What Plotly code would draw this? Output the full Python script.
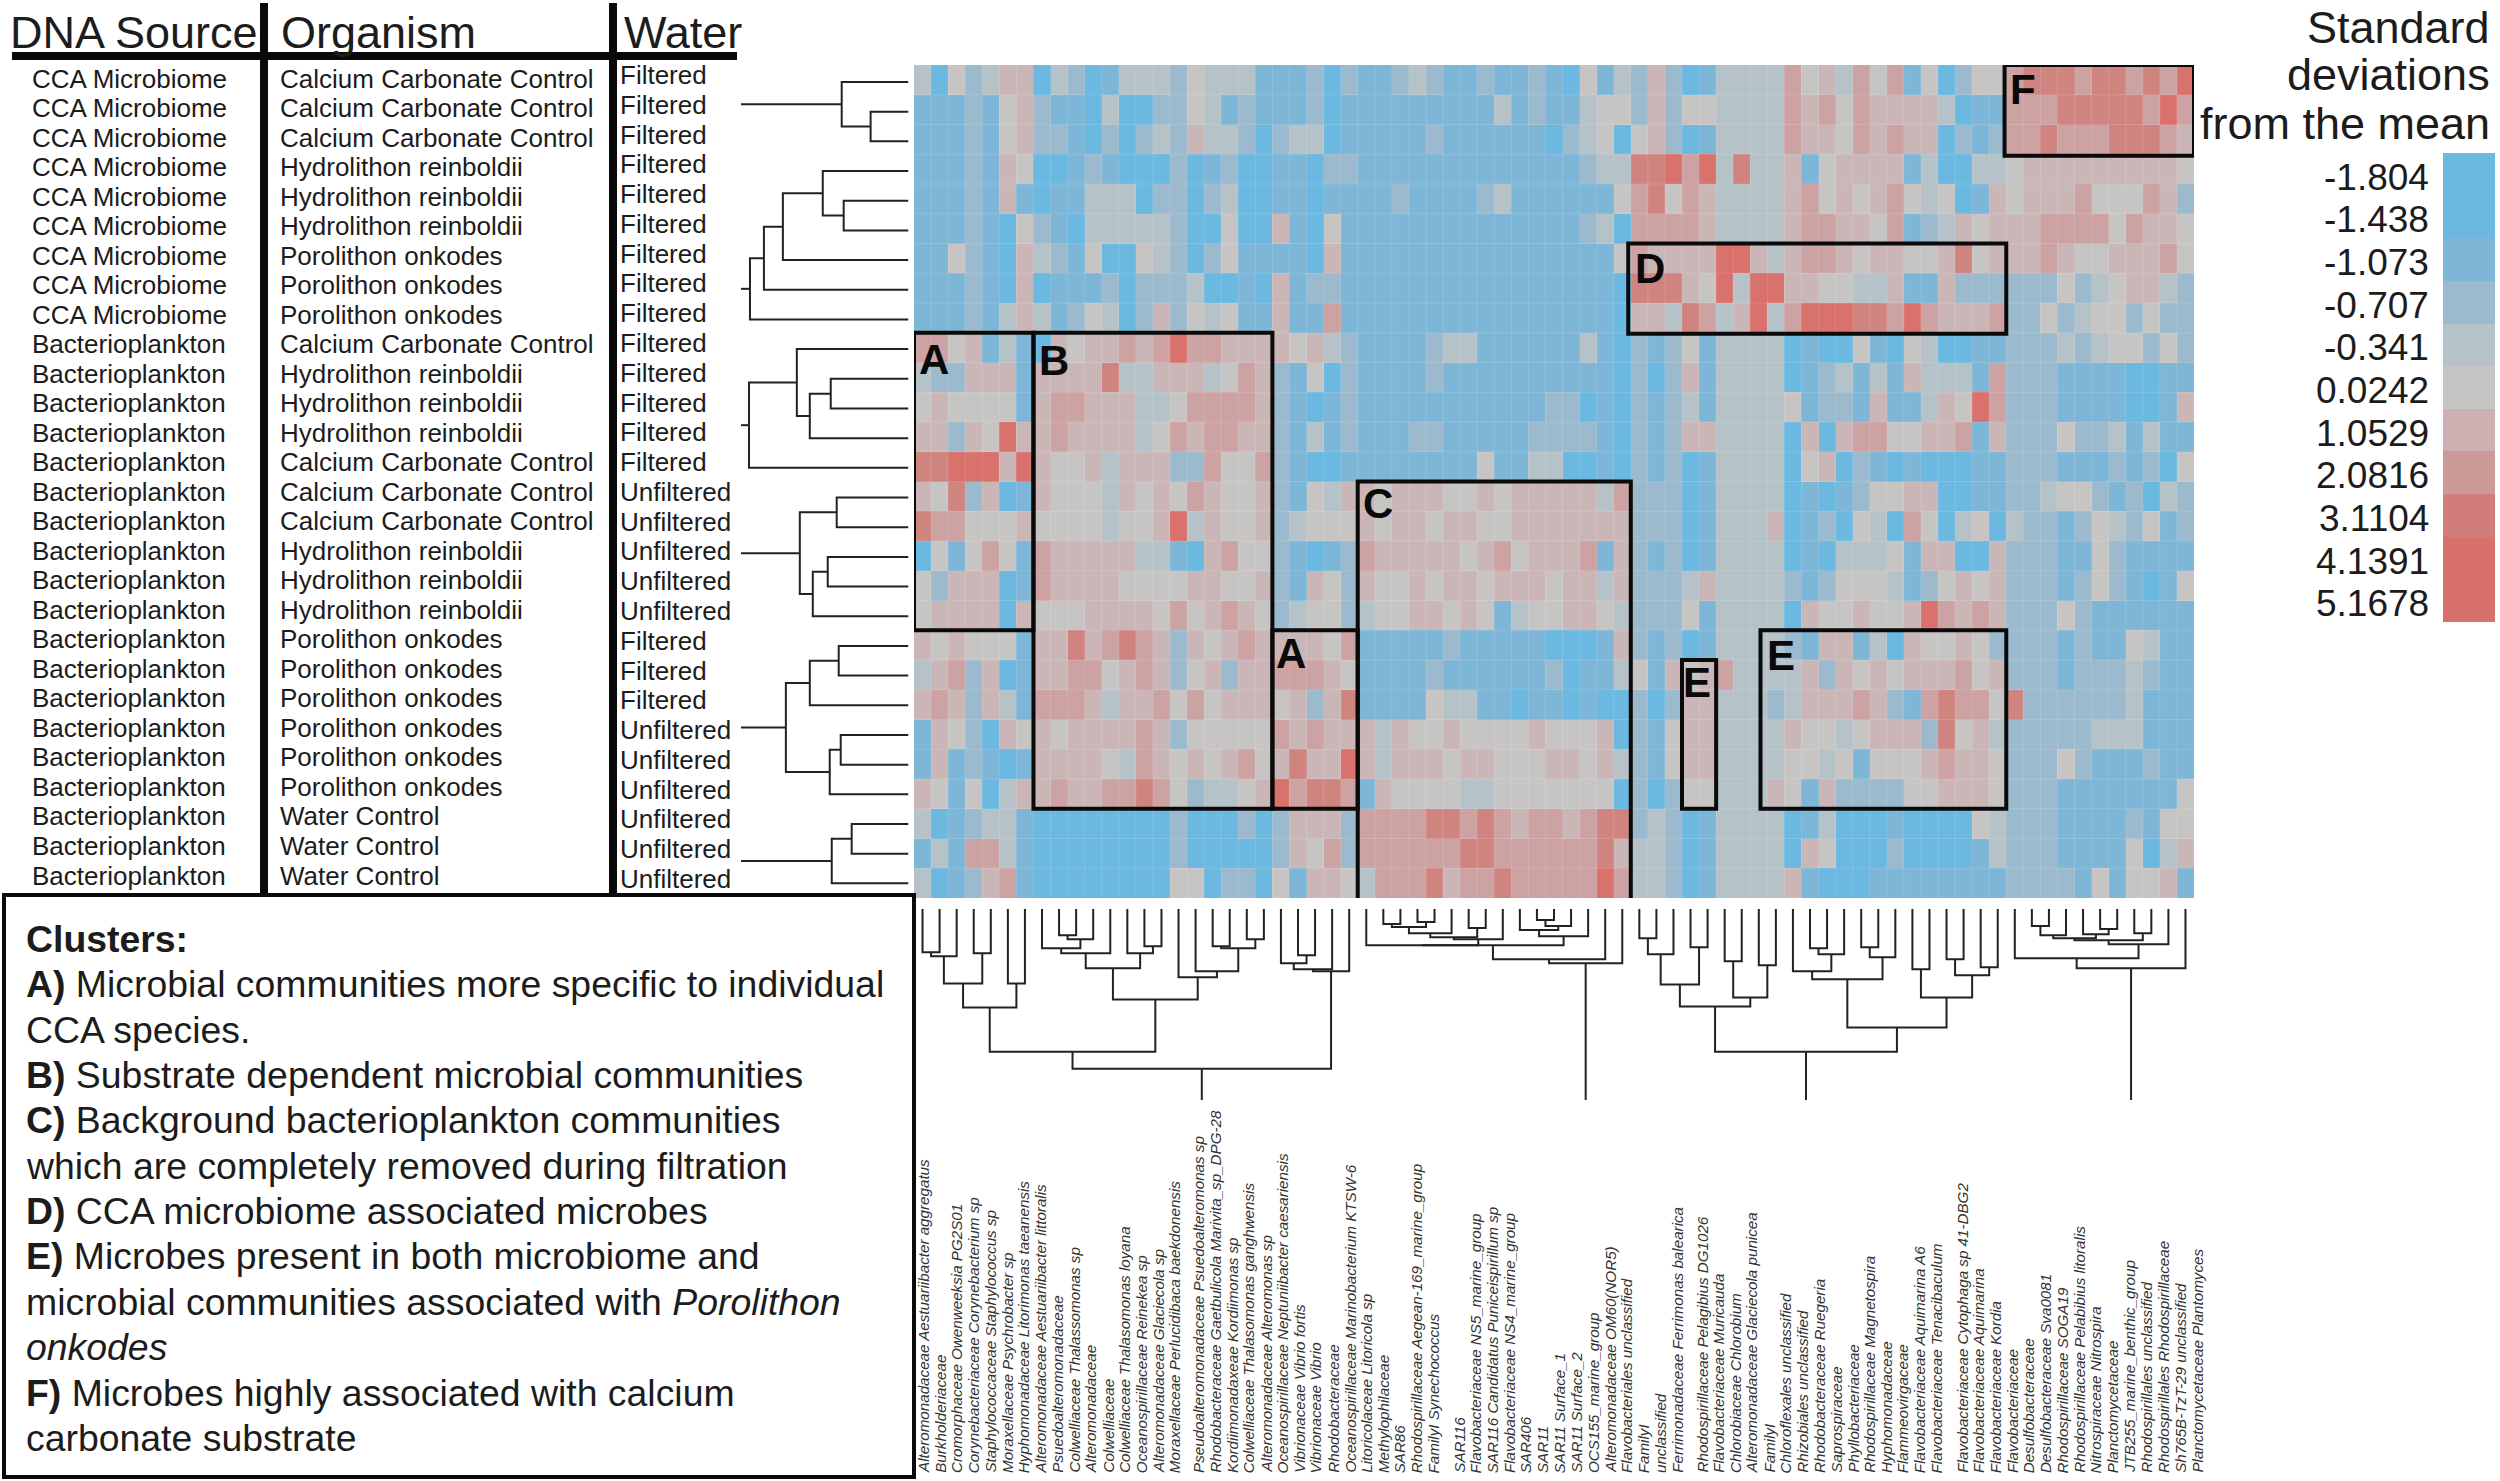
import plotly.graph_objects as go

W, H = 2500, 1481
FONT = "Liberation Sans"
INK = "#1c1c1c"

DNA_SOURCE = ["CCA Microbiome"] * 9 + ["Bacterioplankton"] * 19
ORGANISM = (["Calcium Carbonate Control"] * 3 + ["Hydrolithon reinboldii"] * 3 + ["Porolithon onkodes"] * 3 +
            ["Calcium Carbonate Control"] + ["Hydrolithon reinboldii"] * 3 + ["Calcium Carbonate Control"] * 3 +
            ["Hydrolithon reinboldii"] * 3 + ["Porolithon onkodes"] * 6 + ["Water Control"] * 3)
WATER = ["Filtered"] * 14 + ["Unfiltered"] * 5 + ["Filtered"] * 3 + ["Unfiltered"] * 6

TAXA = [
    "Alteromonadaceae Aestuariibacter aggregatus", "Burkholderiaceae", "Cromorphaceae Owenweeksia PG2S01",
    "Corynebacteriaceae Corynebacterium sp", "Staphylococcaceae Staphylococcus sp", "Moraxellaceae Psychrobacter sp",
    "Hyphomonadaceae Litorimonas taeanensis", "Alteromonadaceae Aestuariibacter littoralis", "Psuedoalteromonadaceae",
    "Colwelliaceae Thalassomonas sp", "Alteromonadaceae", "Colwelliaceae", "Colwelliaceae Thalasomonas loyana",
    "Oceanospirillaceae Reinekea sp", "Alteromonadaceae Glaciecola sp", "Moraxellaceae Perlucidibaca baekdonensis",
    "Pseudoalteromonadaceae Psuedoalteromonas sp", "Rhodobacteraceae Gaetbulicola Marivita_sp_DPG-28",
    "Kordiimonadaxeae Kordiimonas sp", "Colwelliaceae Thalasomonas ganghwensis", "Alteromonadaceae Alteromonas sp",
    "Oceanospirillaceae Neptuniibacter caesariensis", "Vibrionaceae Vibrio fortis", "Vibrionaceae Vibrio",
    "Rhodobacteraceae", "Oceanospirillaceae Marinobacterium KTSW-6", "Litoricolaceae Litoricola sp", "Methylophilaceae",
    "SAR86", "Rhodospirillaceae Aegean-169_marine_group", "FamilyI Synechococcus", "SAR116",
    "Flavobacteriaceae NS5_marine_group", "SAR116 Candidatus Puniceispirillum sp", "Flavobacteriaceae NS4_marine_group",
    "SAR406", "SAR11", "SAR11 Surface_1", "SAR11 Surface_2", "OCS155_marine_group", "Alteromonadaceae OM60(NOR5)",
    "Flavobacteriales unclassified", "FamilyI", "unclassified", "Ferrimonadaceae Ferrimonas balearica",
    "Rhodospirillaceae Pelagibius DG1026", "Flavobacteriaceae Muricauda", "Chlorobiaceae Chlorobium",
    "Alteromonadaceae Glaciecola punicea", "FamilyI", "Chloroflexales unclassified", "Rhizobiales unclassified",
    "Rhodobacteraceae Ruegeria", "Saprospiraceae", "Phyllobacteriaceae", "Rhodospirillaceae Magnetospira",
    "Hyphomonadaceae", "Flammeovirgaceae", "Flavobacteriaceae Aquimarina A6", "Flavobacteriaceae Tenacibaculum",
    "Flavobacteriaceae Cytophaga sp 41-DBG2", "Flavobacteriaceae Aquimarina", "Flavobacteriaceae Kordia",
    "Flavobacteriaceae", "Desulfobacteraceae", "Desulfobacteraceae Sva0081", "Rhodospirillaceae SOGA19",
    "Rhodospirillaceae Pelabibius litoralis", "Nitrospiraceae Nitrospira", "Planctomycetaceae",
    "JTB255_marine_benthic_group", "Rhodospirillales unclassified", "Rhodospirillales Rhodospirillaceae",
    "Sh765B-TzT-29 unclassified", "Planctomycetaceae Plantomyces",
]

LEGEND_VALUES = [-1.804, -1.438, -1.073, -0.707, -0.341, 0.0242, 1.0529, 2.0816, 3.1104, 4.1391, 5.1678]
LEGEND_LABELS = ["-1.804", "-1.438", "-1.073", "-0.707", "-0.341", "0.0242", "1.0529", "2.0816", "3.1104", "4.1391", "5.1678"]
LEGEND_COLORS = ["#6bb8e0", "#6bb8e0", "#7db6d7", "#9bbacd", "#b5c2c8", "#c7c4c4", "#cdb0b2", "#cd9a99", "#d17e7a", "#d9716b", "#d9716b"]

# One digit per cell: the colour bin (0 = bluest, 8 = reddest)
BIN_VALUES = [-1.6, -1.073, -0.707, -0.341, 0.0242, 0.75, 1.7, 2.9, 4.1]
HEAT_BINS = [
    "3042355032 0133324333 1112021123 2112112104 1325201333 3645364614 0244677767 76768",
    "1112145211 0300224312 1112011111 1111312113 4425244333 3656465555 3011666777 77686",
    "1112145221 0202325332 0233011111 2111111023 4045201333 3655465655 0212667666 77765",
    "1112154001 2100020120 0110221111 1111111112 3377868373 3514555513 0033455555 55554",
    "1112151011 3330220230 0110111121 1112311111 1467465333 3564545643 4015455564 44652",
    "1112104210 3333320040 0510411111 1111111112 3066665333 3566554612 3545556666 46554",
    "1142105321 4004320241 1110511111 1111111111 1465555885 3566545544 5745556544 55564",
    "1112105011 1202223001 0512211111 1111111111 1077754838 8554433511 5222222423 45532",
    "1112135312 4302524341 1511611111 1111111111 1055376358 3688877686 5556224234 42422",
    "6645131054 5565686655 5545321111 2331111113 1021241333 3010041043 0011222323 44242",
    "3225551555 5733555346 5214021111 2111111111 1020251333 3012313153 3316222111 10011",
    "4544441566 5553346666 5210121111 1111111220 1021231333 3412215113 5486222111 10015",
    "5525485565 5553465665 5213121112 2111112222 1021255333 3050566445 5615222422 31311",
    "7788858544 5355522644 6210011111 1114113300 1021201333 3045021010 0011222111 21204",
    "5472501544 4354546544 5214355455 5445455555 3622201333 3010124455 0011223442 12032",
    "7664445444 4344583544 5234445455 4554455555 5522201333 5012043064 0340322124 32412",
    "0414641655 5553310564 4210126555 5545645556 1521201333 3010333415 5005222114 21111",
    "4255501655 5544445544 5215425445 4554555455 3522235333 3212444312 4545222124 21014",
    "4555505444 5555464565 4234423445 5454134455 4322241333 3054454458 6565222421 11111",
    "5454441557 5676525456 5555461111 1211111000 1521201333 3215513054 4542222121 14311",
    "3562501556 6456524525 5666541111 2111111201 1341545633 3352545455 5645222122 23211",
    "5652531666 5355646455 5452571111 4331101101 0020255333 2355565216 7664722222 23111",
    "1542054545 5556524444 4656555354 4544445444 5021455333 3544345552 7453222223 33111",
    "1512101555 5436545456 4575585355 5455444554 5321455333 3443414445 6554222421 11211",
    "5414035565 5667642334 5867761544 4433444444 4020244333 5415222244 5554222111 11114",
    "3012331000 0000020002 0255526666 7767656656 7723201333 3013000100 0043222111 12144",
    "1316631000 0000020000 0254626666 6677666666 7533201333 3054000200 0013222111 14035",
    "3012561000 0000044022 0415543666 7566766666 8633201333 3510001111 1111222214 14451",
]

# Dendrograms as nested (left, right, merge height); leaves are column or row numbers
TREE_1A = ((((0, 1, 43), 2, 47), (3, 4, 44), 74), (5, 6, 74), 98)
TREE_1B = (((7, ((8, 9, 26), 10, 30), 39), 11, 44), (12, (13, 14, 37), 44), 59)
TREE_1C = (15, (16, ((17, 18, 37), (19, 20, 30), 39), 62), 68)
TREE_1D = (((21, (22, 23, 46), 54), 24, 60), 25, 62)
TREE_1 = ((TREE_1A, (TREE_1B, TREE_1C, 90), 142), TREE_1D, 159)
TREE_2A = (((((27, 28, 15), (29, 30, 13), 18), 31, 24), (32, 33, 19), 28), 34, 30)
TREE_2B = ((35, ((36, 37, 11), 38, 17), 21), 39, 27)
TREE_2 = ((((26, TREE_2A, 36), TREE_2B, 36), 40, 50), 41, 54)
TREE_3A = ((((42, 43, 29), 44, 45), (45, 46, 38), 75), ((47, 48, 52), (49, 50, 56), 88), 97)
TREE_3B = ((51, ((52, 53, 39), 54, 45), 62), ((55, 56, 38), 57, 48), 70)
TREE_3C = ((58, 59, 60), ((60, 61, 50), (62, 63, 58), 66), 88)
TREE_3 = (TREE_3A, (TREE_3B, TREE_3C, 118), 142)
TREE_4A = (((65, 66, 17), 67, 26), (68, (69, 70, 20), 25), 29)
TREE_4 = ((64, (((TREE_4A, (71, 72, 24), 31)), 73, 35), 49), 74, 59)
COL_TREES = [TREE_1, TREE_2, TREE_3, TREE_4]
COL_STUB = 190

ROW_TREES = [
    (0, (1, 2, 38), 67),
    ((((3, (4, 5, 65), 86), 6, 126), 7, 145), 8, 159),
    ((9, ((10, 11, 78), 12, 99), 112), 13, 160),
    ((14, 15, 72), ((16, 17, 81), 18, 96), 109),
    (((19, 20, 70), 21, 99), ((22, 23, 68), 24, 79), 123),
    ((25, 26, 57), 27, 77),
]
ROW_STUB = 168

# label, first column edge, last column edge, first row edge, last row edge
CLUSTER_BOXES = [
    ("A", 0, 7, 9, 19), ("B", 7, 21, 9, 25), ("A", 21, 26, 19, 25), ("C", 26, 42, 14, 28.1),
    ("D", 41.85, 64, 6, 9.03), ("E", 45, 47, 20, 25), ("E", 49.6, 64, 19, 25), ("F", 63.9, 75, 0, 3.05),
]
BOX_LETTER_PX = [(934, 359), (1054, 360), (1291, 654), (1378, 504), (1650, 268), (1697, 683), (1781, 655), (2023, 90)]

CLUSTER_TEXT = [
    "<b>Clusters:</b>",
    "<b>A)</b> Microbial communities more specific to individual",
    "CCA species.",
    "<b>B)</b> Substrate dependent microbial communities",
    "<b>C)</b> Background bacterioplankton communities",
    "which are completely removed during filtration",
    "<b>D)</b> CCA microbiome associated microbes",
    "<b>E)</b> Microbes present in both microbiome and",
    "microbial communities associated with <i>Porolithon</i>",
    "<i>onkodes</i>",
    "<b>F)</b> Microbes highly associated with calcium",
    "carbonate substrate",
]

# ---------- layout helpers ----------
def xd(a, b):
    return [a / W, b / W]

def yd(top, bottom):
    return [1 - bottom / H, 1 - top / H]

def walk(node, out):
    """Return (position, height) of a node and append its bracket to out."""
    if isinstance(node, int):
        return node, 0
    l, r, h = node
    lp, lh = walk(l, out)
    rp, rh = walk(r, out)
    out.append(((lp, lh), (lp, h), (rp, h), (rp, rh)))
    return (lp + rp) / 2, h

def tree_xy(trees, stub):
    a, b = [], []
    for t in trees:
        segs = []
        c, h = walk(t, segs)
        for s in segs:
            a += [p[0] for p in s] + [None]
            b += [p[1] for p in s] + [None]
        a += [c, c, None]
        b += [h, stub, None]
    return a, b

# ---------- colours: stops sit on the legend's values ----------
lo, hi = LEGEND_VALUES[0], LEGEND_VALUES[-1]
colorscale = [[(v - lo) / (hi - lo), c] for v, c in zip(LEGEND_VALUES, LEGEND_COLORS)]

rows = [r.replace(" ", "") for r in HEAT_BINS]
assert all(len(r) == 75 for r in rows), [len(r) for r in rows]
z = [[BIN_VALUES[int(c)] for c in r] for r in rows]

fig = go.Figure()

# Main heatmap
fig.add_trace(go.Heatmap(z=z, x=list(range(75)), y=list(range(28)), colorscale=colorscale, zmin=lo, zmax=hi,
                         showscale=False, hoverinfo="skip", xaxis="x", yaxis="y"))

# Column dendrogram
cx, cy = tree_xy(COL_TREES, COL_STUB)
fig.add_trace(go.Scatter(x=cx, y=cy, mode="lines", line=dict(color="#222", width=2), xaxis="x2", yaxis="y2",
                         hoverinfo="skip", showlegend=False))

# Row dendrogram
ry, rx = tree_xy(ROW_TREES, ROW_STUB)
fig.add_trace(go.Scatter(x=rx, y=ry, mode="lines", line=dict(color="#222", width=2), xaxis="x3", yaxis="y3",
                         hoverinfo="skip", showlegend=False))

# Sample table
text_font = dict(family=FONT, size=26, color=INK)
fig.add_trace(go.Scatter(x=[32] * 28, y=list(range(28)), text=DNA_SOURCE, mode="text", textposition="middle right",
                         textfont=text_font, xaxis="x4", yaxis="y4", hoverinfo="skip", showlegend=False))
fig.add_trace(go.Scatter(x=[280] * 28, y=list(range(28)), text=ORGANISM, mode="text", textposition="middle right",
                         textfont=text_font, xaxis="x4", yaxis="y4", hoverinfo="skip", showlegend=False))
fig.add_trace(go.Scatter(x=[620] * 28, y=list(range(28)), text=WATER, mode="text", textposition="middle right",
                         textfont=text_font, xaxis="x4", yaxis="y5", hoverinfo="skip", showlegend=False))

# Legend
fig.add_trace(go.Heatmap(z=[[v] for v in LEGEND_VALUES], x=[0], y=list(range(11)), colorscale=colorscale,
                         zmin=lo, zmax=hi, showscale=False, hoverinfo="skip", xaxis="x6", yaxis="y6"))

hidden = dict(visible=False, showgrid=False, zeroline=False, fixedrange=True)
fig.update_layout(
    width=W, height=H, margin=dict(l=0, r=0, t=0, b=0), paper_bgcolor="white", plot_bgcolor="rgba(0,0,0,0)",
    font=dict(family=FONT, color=INK), showlegend=False,
    xaxis=dict(hidden, domain=xd(914, 2194), range=[-0.5, 74.5]),
    yaxis=dict(hidden, domain=yd(65, 898), range=[27.5, -0.5]),
    xaxis2=dict(hidden, domain=xd(914, 2194), range=[-0.5, 74.5], anchor="y2"),
    yaxis2=dict(hidden, domain=yd(909, 1100), range=[190, 0], anchor="x2"),
    xaxis3=dict(hidden, domain=xd(741, 908.5), range=[168, 0], anchor="y3"),
    yaxis3=dict(hidden, domain=yd(82 - 14.84, 82 + 27.5 * 29.68), range=[27.5, -0.5], anchor="x3"),
    xaxis4=dict(hidden, domain=xd(0, 740), range=[0, 740], anchor="y4"),
    yaxis4=dict(hidden, domain=yd(81 - 14.76, 81 + 27.5 * 29.52), range=[27.5, -0.5], anchor="x4"),
    yaxis5=dict(hidden, domain=yd(77.5 - 14.89, 77.5 + 27.5 * 29.78), range=[27.5, -0.5], anchor="x4"),
    xaxis6=dict(hidden, domain=xd(2443, 2495), range=[-0.5, 0.5], anchor="y6"),
    yaxis6=dict(hidden, domain=yd(153, 622), range=[10.5, -0.5], anchor="x6"),
)

def note(text, px, py, size, xanchor="left", yanchor="middle", color=INK, **kw):
    fig.add_annotation(text=text, x=px / W, y=1 - py / H, xref="paper", yref="paper", showarrow=False,
                       xanchor=xanchor, yanchor=yanchor, borderpad=0, font=dict(family=FONT, size=size, color=color), **kw)

# Table headers
note("DNA Source", 9, 32, 45)
note("Organism", 280, 32, 45)
note("Water", 623, 32, 45)

# Legend title and labels
for txt, py in zip(["Standard", "deviations", "from the mean"], [27, 75, 124]):
    note(txt, 2491, py, 45, xanchor="right")
for i, lab in enumerate(LEGEND_LABELS):
    fig.add_annotation(text=lab, x=2430 / W, y=i, xref="paper", yref="y6", yshift=-3, showarrow=False, xanchor="right",
                       borderpad=0, font=dict(family=FONT, size=37, color=INK))

# Cluster text
for i, line in enumerate(CLUSTER_TEXT):
    note(line, 25, 939 + 45.35 * i, 37.4)

# Taxon labels
label_x = []
for first, count in zip([923, 1198.5, 1458.7, 1701.5, 1961.7], [16, 15, 14, 15, 15]):
    label_x += [first + 16.78 * k for k in range(count)]
for name, px in zip(TAXA, label_x):
    note(f"<i>{name}</i>", px, 1474, 15.2, xanchor="center", yanchor="bottom", textangle=-90, color="#333")

# Faint cell seams
for c in range(1, 75):
    fig.add_shape(type="line", xref="x", yref="paper", x0=c - 0.5, x1=c - 0.5, y0=1 - 898 / H, y1=1 - 65 / H,
                  line=dict(color="rgba(255,255,255,0.14)", width=1))
for r in range(1, 28):
    fig.add_shape(type="line", xref="paper", yref="y", x0=914 / W, x1=2194 / W, y0=r - 0.5, y1=r - 0.5,
                  line=dict(color="rgba(255,255,255,0.14)", width=1))

# Cluster boxes
for (label, c0, c1, r0, r1), (lx, ly) in zip(CLUSTER_BOXES, BOX_LETTER_PX):
    fig.add_shape(type="rect", xref="x", yref="y", x0=c0 - 0.5, x1=c1 - 0.5, y0=r0 - 0.5, y1=r1 - 0.5,
                  line=dict(color="#0a0a0a", width=4), fillcolor="rgba(0,0,0,0)")
    note(f"<b>{label}</b>", lx, ly, 42, xanchor="center", color="#0a0a0a")

# Table rules and text frame
def rule(x0, y0, x1, y1, width):
    fig.add_shape(type="line", xref="paper", yref="paper", x0=x0 / W, x1=x1 / W, y0=1 - y0 / H, y1=1 - y1 / H,
                  line=dict(color="#0a0a0a", width=width))

rule(12, 56, 737, 56, 8)
rule(264, 3, 264, 893, 8)
rule(613, 3, 613, 893, 8)
fig.add_shape(type="rect", xref="paper", yref="paper", x0=4 / W, x1=914 / W, y0=1 - 895 / H, y1=1 - 1477 / H,
              line=dict(color="#0a0a0a", width=4), fillcolor="rgba(0,0,0,0)")

fig.write_html("out.html", post_script="document.body.style.margin='0';", config={"displayModeBar": False})
